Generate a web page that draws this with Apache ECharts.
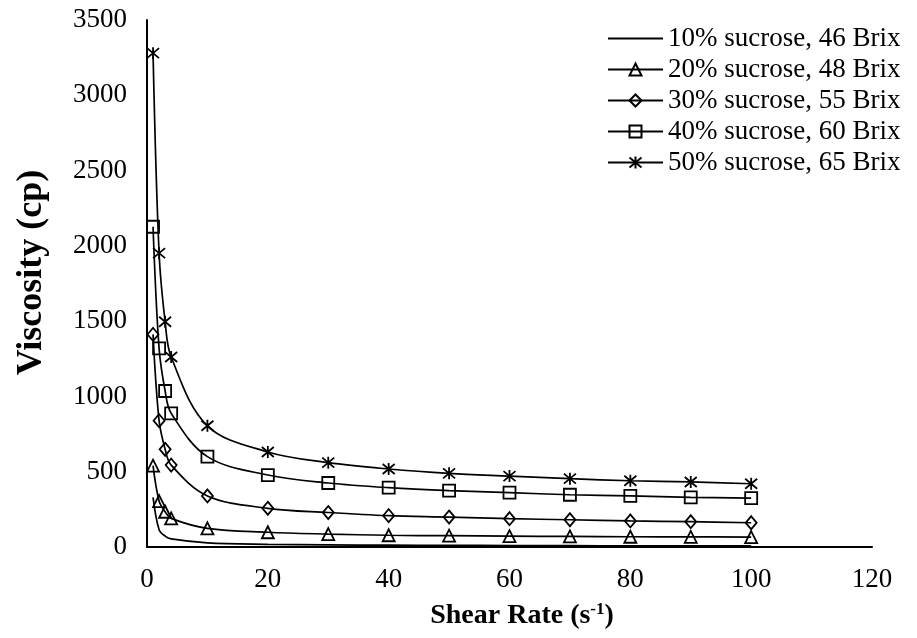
<!DOCTYPE html>
<html>
<head>
<meta charset="utf-8">
<script src="https://cdn.jsdelivr.net/npm/echarts@6/dist/echarts.min.js"></script>
<style>
html,body{margin:0;padding:0;background:#fff;}
#chart{width:917px;height:638px;}
</style>
</head>
<body>
<div id="chart"></div>
<script>
// Shear rate (s^-1)
var shearRates = [1, 2, 3, 4, 10, 20, 30, 40, 50, 60, 70, 80, 90, 100];
var seriesNames = [
  '10% sucrose, 46 Brix',
  '20% sucrose, 48 Brix',
  '30% sucrose, 55 Brix',
  '40% sucrose, 60 Brix',
  '50% sucrose, 65 Brix'
];
// Viscosity (cp)
var visc10 = [330, 115, 72, 54, 28, 18, 14, 12, 11, 10, 9, 8, 8, 7];
var visc20 = [540, 305, 234, 190, 124, 98, 86, 78, 75, 72, 70, 68, 67, 66];
var visc30 = [1412, 839, 649, 544, 339, 257, 229, 208, 199, 188, 181, 173, 168, 161];
var visc40 = [2127, 1319, 1036, 888, 600, 478, 425, 394, 374, 361, 347, 339, 330, 325];
var visc50 = [3280, 1952, 1496, 1262, 805, 631, 560, 518, 489, 471, 454, 440, 432, 420];
var xTicks = [0, 20, 40, 60, 80, 100, 120];
var yTicks = [0, 500, 1000, 1500, 2000, 2500, 3000, 3500];

var starPath = 'path://M0,-6L0,6M-5,-5L5,5M-5,5L5,-5';

function pairs(ys) {
  return shearRates.map(function (x, i) { return [x, ys[i]]; });
}

var clear = 'rgba(0,0,0,0)';
var lineStyle = { color: '#000', width: 1.7 };

function mk(name, ys, symbol, size, noMarker) {
  return {
    name: name,
    type: 'line',
    data: pairs(ys),
    smooth: 0.35,
    symbol: symbol,
    symbolSize: size,
    showSymbol: !noMarker,
    lineStyle: lineStyle,
    itemStyle: noMarker
      ? { color: clear, borderColor: clear, borderWidth: 0 }
      : { color: clear, borderColor: '#000', borderWidth: 1.8 },
    emphasis: { disabled: true },
    animation: false,
    z: 2
  };
}

var chart = echarts.init(document.getElementById('chart'), null, { renderer: 'canvas' });
var serif = '"Liberation Serif", "Times New Roman", serif';

chart.setOption({
  backgroundColor: '#fff',
  animation: false,
  textStyle: { fontFamily: serif, color: '#000' },
  grid: { left: 147, right: 45, top: 20, bottom: 91, containLabel: false },
  legend: {
    orient: 'vertical',
    left: 602,
    top: 20,
    itemWidth: 55,
    itemHeight: 15,
    itemGap: 4,
    textStyle: { fontFamily: serif, fontSize: 27, color: '#000' },
    data: seriesNames
  },
  xAxis: {
    type: 'value',
    min: xTicks[0],
    max: xTicks[xTicks.length - 1],
    interval: 20,
    axisLine: { lineStyle: { color: '#000', width: 2 } },
    axisTick: { show: false },
    splitLine: { show: false },
    axisLabel: { fontFamily: serif, fontSize: 27, color: '#000', margin: 19 },
    name: 'Shear Rate (s{sup|-1})',
    nameLocation: 'middle',
    nameGap: 54,
    nameTextStyle: {
      fontFamily: serif, fontSize: 28, fontWeight: 'bold', color: '#000',
      padding: [0, 0, 0, 25],
      rich: { sup: { fontFamily: serif, fontSize: 17, fontWeight: 'bold', color: '#000', verticalAlign: 'top', padding: [0, 0, 12, 0] } }
    }
  },
  yAxis: {
    type: 'value',
    min: yTicks[0],
    max: yTicks[yTicks.length - 1],
    interval: 500,
    axisLine: { show: true, lineStyle: { color: '#000', width: 2 } },
    axisTick: { show: false },
    splitLine: { show: false },
    axisLabel: { fontFamily: serif, fontSize: 27, color: '#000', margin: 20, formatter: function (v) { return String(v); } },
    name: 'Viscosity (cp)',
    nameLocation: 'middle',
    nameGap: 97,
    nameRotate: 90,
    nameTextStyle: { fontFamily: serif, fontSize: 36, fontWeight: 'bold', color: '#000', padding: [0, 0, 0, 22] }
  },
  series: [
    mk(seriesNames[0], visc10, 'circle', 0, true),
    mk(seriesNames[1], visc20, 'triangle', 12),
    mk(seriesNames[2], visc30, 'diamond', [11, 13]),
    mk(seriesNames[3], visc40, 'rect', 12),
    mk(seriesNames[4], visc50, starPath, 12)
  ]
});
</script>
</body>
</html>
